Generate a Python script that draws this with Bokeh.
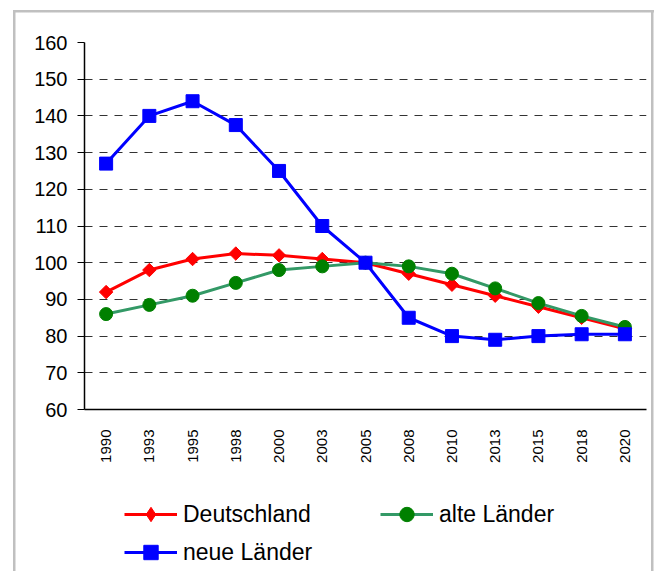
import numpy as np
from bokeh.plotting import figure
from bokeh.layouts import column
from bokeh.models import (ColumnDataSource, FactorRange, Range1d, FixedTicker,
                          Legend, LegendItem)
from bokeh.embed import file_html
from bokeh.resources import INLINE

years = ["1990", "1993", "1995", "1998", "2000", "2003", "2005",
         "2008", "2010", "2013", "2015", "2018", "2020"]
deutschland = [92, 98, 101, 102.5, 102, 101, 100, 97, 94, 91, 88, 85, 82]
alte_laender = [86, 88.5, 91, 94.5, 98, 99, 100, 99, 97, 93, 89, 85.5, 82.5]
neue_laender = [127, 140, 144, 137.5, 125, 110, 100, 85, 80, 79, 80, 80.5, 80.5]
y_ticks = [60, 70, 80, 90, 100, 110, 120, 130, 140, 150, 160]
series_names = ["Deutschland", "alte Länder", "neue Länder"]

FONT = "Liberation Sans"
STYLES = [
    dict(line="#ff0000", marker="square", angle=np.pi / 4, size=9.5, fill="#ff0000"),
    dict(line="#339966", marker="circle", angle=0, size=13, fill="#008000"),
    dict(line="#0000ff", marker="square", angle=0, size=13, fill="#0000ff"),
]
LEGEND_MARKERS = [
    dict(marker="diamond", size=14),
    dict(marker="circle", size=12),
    dict(marker="square", size=12),
]
COLS = ["de", "alt", "neu"]

src = ColumnDataSource(dict(year=years, de=deutschland, alt=alte_laender, neu=neue_laender))

p = figure(x_range=FactorRange(*years), y_range=Range1d(60, 160),
           frame_width=562, frame_height=367,
           min_border_left=84, min_border_right=14,
           min_border_top=42, min_border_bottom=87,
           output_backend="svg", toolbar_location=None)
p.outline_line_color = None
p.background_fill_color = None
p.border_fill_color = None

# axes
p.xaxis.major_label_orientation = np.pi / 2
p.xaxis.major_tick_line_color = None
p.xaxis.minor_tick_line_color = None
p.xaxis.major_label_text_font = FONT
p.xaxis.major_label_text_font_size = "15px"
p.xaxis.major_label_text_color = "black"
p.xaxis.major_label_standoff = 14
p.xaxis.axis_line_color = "black"
p.xaxis.axis_line_width = 1.5

p.yaxis.ticker = FixedTicker(ticks=y_ticks)
p.yaxis.major_tick_in = 0
p.yaxis.major_tick_out = 7
p.yaxis.minor_tick_line_color = None
p.yaxis.major_tick_line_color = "black"
p.yaxis.major_label_text_font = FONT
p.yaxis.major_label_text_font_size = "20px"
p.yaxis.major_label_text_color = "black"
p.yaxis.major_label_standoff = 10
p.yaxis.axis_line_color = "black"
p.yaxis.axis_line_width = 1.5

p.xgrid.grid_line_color = None
p.ygrid.ticker = FixedTicker(ticks=y_ticks)
p.ygrid.grid_line_color = "#333333"
p.ygrid.grid_line_width = 1
p.ygrid.grid_line_dash = "8 7"

for col, st in zip(COLS, STYLES):
    p.line("year", col, source=src, line_color=st["line"], line_width=3)
    p.scatter("year", col, source=src, marker=st["marker"], angle=st["angle"],
              size=st["size"], fill_color=st["fill"], line_color=st["fill"])

# legend strip below the chart: same series, y window chosen so that only
# the legend entries are visible here
lg = figure(width=660, height=75, x_range=FactorRange(*years), y_range=Range1d(0, 1),
            x_axis_type=None, y_axis_type=None,
            min_border_left=0, min_border_right=0, min_border_top=0, min_border_bottom=0,
            output_backend="svg", toolbar_location=None)
lg.outline_line_color = None
lg.background_fill_color = None
lg.border_fill_color = None
lg.xgrid.grid_line_color = None
lg.ygrid.grid_line_color = None

items = []
for name, col, st, lm in zip(series_names, COLS, STYLES, LEGEND_MARKERS):
    rl = lg.line("year", col, source=src, line_color=st["line"], line_width=3)
    rm = lg.scatter("year", col, source=src, marker=lm["marker"],
                    size=lm["size"], fill_color=st["fill"], line_color=st["fill"])
    items.append(LegendItem(label=name, renderers=[rl, rm]))

legend = Legend(items=items, location=(40, 1), orientation="horizontal", ncols=2)
legend.label_text_font = FONT
legend.label_text_font_size = "23px"
legend.label_text_color = "black"
legend.glyph_width = 53
legend.glyph_height = 36
legend.label_height = 36
legend.label_width = 195
legend.label_standoff = 6
legend.spacing = 2
legend.padding = 0
legend.margin = 0
legend.background_fill_alpha = 0
legend.border_line_alpha = 0
lg.add_layout(legend, "center")

g = "linear-gradient(#c0c0c0,#c0c0c0)"
layout = column(p, lg, spacing=0, styles={
    "background": (f"{g} 13px 10px / 2.5px 800px no-repeat, "
                   f"{g} 13px 10px / 641px 2.5px no-repeat, "
                   f"{g} 651px 10px / 2.5px 800px no-repeat, white"),
})

open("out.html", "w").write(file_html(layout, INLINE))
